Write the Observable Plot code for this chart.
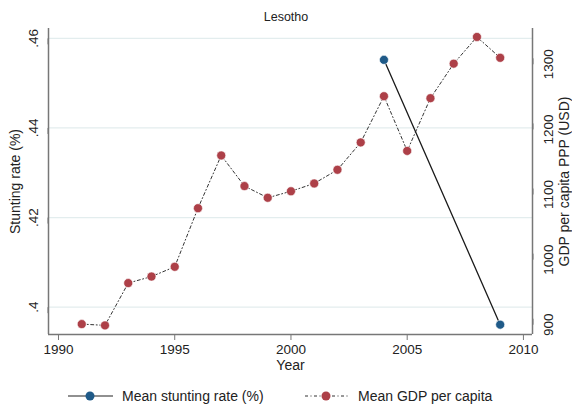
<!DOCTYPE html>
<html><head><meta charset="utf-8">
<script src="https://cdn.jsdelivr.net/npm/d3@7"></script>
<script src="https://cdn.jsdelivr.net/npm/@observablehq/plot@0.6"></script>
<style>
body{margin:0;background:#fff;font-family:"Liberation Sans",Arial,sans-serif;color:#222;}
#title{width:572px;height:26px;box-sizing:border-box;padding-top:8px;line-height:18px;text-align:center;font-size:12.5px;}
#legend{width:572px;height:29px;position:relative;font-size:14px;}
#legend .item{position:absolute;top:7px;display:flex;align-items:center;}
#legend svg{margin-right:9px;}
</style></head>
<body>
<div id="title">Lesotho</div>
<div id="chart"></div>
<div id="legend">
  <div class="item" style="left:68px"><svg width="45" height="12"><line x1="0" y1="6" x2="45" y2="6" stroke="#222" stroke-width="1.2"/><circle cx="22" cy="6" r="4.5" fill="#1f5a88"/></svg>Mean stunting rate (%)</div>
  <div class="item" style="left:305px"><svg width="44" height="12"><line x1="0" y1="6" x2="44" y2="6" stroke="#333" stroke-width="1" stroke-dasharray="3,2.5,1,2.5"/><circle cx="21" cy="6" r="4.5" fill="#ad4048"/></svg>Mean GDP per capita</div>
</div>
<script>
const years = [1991,1992,1993,1994,1995,1996,1997,1998,1999,2000,2001,2002,2003,2004,2005,2006,2007,2008,2009];
const gdp = [901,899,964,974,989,1079,1160,1113,1095,1105,1117,1138,1180,1251,1167,1248,1301,1342,1310];
const stuntYears = [2004,2009];
const stunt = [0.4552,0.3961];
const xTicks = [1990,1995,2000,2005,2010];
const leftTicks = [0.40,0.42,0.44,0.46];
const gdpTicks = [900,1000,1100,1200,1300];
const xDomain = [1989.57,2010.39];
const yDomain = [0.3939,0.4622];
const gDomain = [885,1355];

const g2s = v => yDomain[0] + (v - gDomain[0]) / (gDomain[1] - gDomain[0]) * (yDomain[1] - yDomain[0]);
const s2g = v => gDomain[0] + (v - yDomain[0]) / (yDomain[1] - yDomain[0]) * (gDomain[1] - gDomain[0]);

const gdpData = years.map((y,i)=>({year:y, v:g2s(gdp[i])}));
const stuntData = stuntYears.map((y,i)=>({year:y, v:stunt[i]}));

const axisColor = "#777";
const chart = Plot.plot({
  width:572, height:355,
  marginLeft:48, marginRight:40, marginTop:2, marginBottom:47,
  style:{fontFamily:'"Liberation Sans",Arial,sans-serif', fontSize:"13.5px", color:"#222", background:"#fff"},
  x:{domain:xDomain},
  y:{domain:yDomain},
  marks:[
    Plot.gridY(leftTicks, {stroke:"#e3edee", strokeOpacity:1, strokeWidth:1.2}),
    Plot.ruleX(xDomain, {stroke:axisColor, strokeWidth:1.5}),
    Plot.ruleY([yDomain[0]], {stroke:axisColor, strokeWidth:1.5}),
    Plot.axisX(xTicks, {tickSize:6, tickPadding:4, stroke:axisColor, tickFormat:d=>String(d), label:null, fontSize:13.5}),
    Plot.axisY(leftTicks, {anchor:"left", tickSize:6, tickPadding:5, stroke:axisColor, rotate:-90, textAnchor:"middle", lineAnchor:"bottom",
      tickFormat:d=>d.toFixed(2).replace(/^0/,"").replace(/0$/,""), label:null, fontSize:13.5}),
    Plot.axisY(gdpTicks.map(g2s), {anchor:"right", tickSize:6, tickPadding:5, stroke:axisColor, rotate:-90, textAnchor:"middle", lineAnchor:"top",
      tickFormat:d=>String(Math.round(s2g(d))), label:null, fontSize:13.5}),
    Plot.line(gdpData, {x:"year", y:"v", stroke:"#333", strokeWidth:1, strokeDasharray:"3,2.5,1,2.5"}),
    Plot.dot(gdpData, {x:"year", y:"v", r:4.5, fill:"#ad4048", stroke:"#fff", strokeWidth:0.6}),
    Plot.line(stuntData, {x:"year", y:"v", stroke:"#1a1a1a", strokeWidth:1.3}),
    Plot.dot(stuntData, {x:"year", y:"v", r:4.5, fill:"#1f5a88", stroke:"#fff", strokeWidth:0.6}),
    Plot.text(["Stunting rate (%)"], {frameAnchor:"left", textAnchor:"middle", dx:-33, rotate:-90, fontSize:14, fill:"#222"}),
    Plot.text(["GDP per capita PPP (USD)"], {frameAnchor:"right", textAnchor:"middle", dx:32, rotate:-90, fontSize:14, fill:"#222"}),
    Plot.text(["Year"], {frameAnchor:"bottom", dy:35, fontSize:14, fill:"#222"})
  ]
});
document.getElementById("chart").appendChild(chart);
</script>
</body></html>
